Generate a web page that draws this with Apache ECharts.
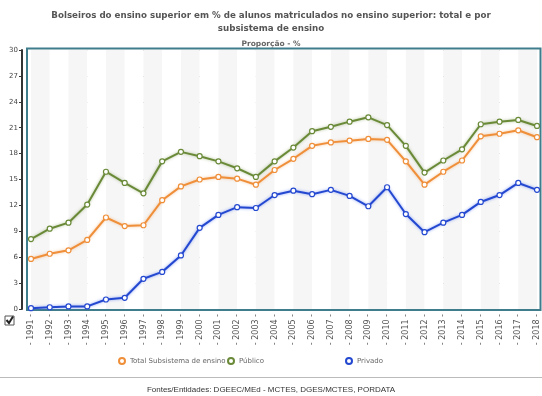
<!DOCTYPE html>
<html><head><meta charset="utf-8">
<script src="https://cdn.jsdelivr.net/npm/echarts@6/dist/echarts.min.js"></script>
<style>html,body{margin:0;padding:0;background:#fff}#c{width:542px;height:396px}</style>
</head><body><div id="c"></div>
<script>
var years = ['1991','1992','1993','1994','1995','1996','1997','1998','1999','2000','2001','2002','2003','2004','2005','2006','2007','2008','2009','2010','2011','2012','2013','2014','2015','2016','2017','2018'];
var total = [5.8,6.4,6.8,8.0,10.6,9.6,9.7,12.6,14.2,15.0,15.3,15.1,14.4,16.1,17.4,18.9,19.3,19.5,19.7,19.6,17.1,14.4,15.9,17.2,20.0,20.3,20.7,19.9];
var publico = [8.1,9.3,10.0,12.1,15.9,14.6,13.4,17.1,18.2,17.7,17.1,16.3,15.3,17.1,18.7,20.6,21.1,21.7,22.2,21.3,18.9,15.8,17.2,18.5,21.4,21.7,21.9,21.2];
var privado = [0.1,0.2,0.3,0.3,1.1,1.3,3.5,4.3,6.2,9.4,10.9,11.8,11.7,13.2,13.7,13.3,13.8,13.1,11.9,14.1,11.0,8.9,10.0,10.9,12.4,13.2,14.6,13.8];
var seriesNames = ['Total Subsistema de ensino','Público','Privado'];
var colors = ['#ef8f3a','#6a8a38','#2448d0'];
var shadows = ['rgba(239,143,58,0.5)','rgba(106,138,56,0.5)','rgba(60,100,240,0.6)'];

var chart = echarts.init(document.getElementById('c'));
function mk(i, data){
  return {name: seriesNames[i], type:'line', data:data, symbol:'circle', symbolSize:5,
    itemStyle:{color:'#fff', borderColor:colors[i], borderWidth:1.2},
    lineStyle:{color:colors[i], width:2, shadowColor:shadows[i], shadowBlur:3},
    z: 3, emphasis:{disabled:true}};
}
function lg(i, left){
  return {data:[{name:seriesNames[i], icon:'circle'}], top:357, left:left, itemWidth:6, itemHeight:6, padding:0,
    textStyle:{fontSize:7, color:'#666', fontFamily:'DejaVu Sans'}, selectedMode:false};
}
chart.setOption({
  animation:false,
  title:[{text:'Bolseiros do ensino superior em % de alunos matriculados no ensino superior: total e por\nsubsistema de ensino',
    left:'center', top:4, textStyle:{fontSize:8.7, fontWeight:'bold', color:'#555', fontFamily:'DejaVu Sans', lineHeight:13}},
    {text:'Proporção - %', left:'center', top:35, textStyle:{fontSize:7.5, fontWeight:'bold', color:'#666', fontFamily:'DejaVu Sans'}},
    {text:'Fontes/Entidades: DGEEC/MEd - MCTES, DGES/MCTES, PORDATA', left:'center', top:381, textStyle:{fontSize:8, fontWeight:'normal', color:'#333', fontFamily:'Liberation Sans'}}],
  grid:{left:31, right:5, top:50, bottom:87},
  legend:[lg(0,118), lg(1,227), lg(2,345)],
  xAxis:{type:'category', data:years, boundaryGap:false,
    axisLine:{show:false}, axisTick:{show:false},
    axisLabel:{rotate:90, fontSize:8, color:'#555', margin:5, formatter:'- {value} -', fontFamily:'DejaVu Sans'},
    splitLine:{show:false},
    splitArea:{show:true, areaStyle:{color:['#f6f6f6','#ffffff']}}},
  yAxis:{type:'value', min:0, max:30, interval:3, offset:9,
    axisLine:{show:true, lineStyle:{color:'#333', width:2}},
    axisTick:{show:true, length:3, lineStyle:{color:'#333'}},
    axisLabel:{fontSize:7, color:'#444', margin:4, fontFamily:'DejaVu Sans'},
    splitLine:{show:true, lineStyle:{color:'#aaa', type:[1,3], width:1}}},
  series:[mk(0,total), mk(1,publico), mk(2,privado)],
  graphic:[
    {type:'rect', shape:{x:27, y:48.5, width:513.5, height:261.5}, style:{fill:'none', stroke:'#3f7d8c', lineWidth:2}, z:1, silent:true},
    {type:'rect', shape:{x:5, y:316, width:9, height:9}, style:{fill:'#fff', stroke:'#555', lineWidth:1}},
    {type:'polyline', shape:{points:[[6.5,320],[9,323],[13,316.5]]}, style:{stroke:'#222', lineWidth:2, fill:'none'}},
    {type:'line', shape:{x1:0, y1:377.5, x2:542, y2:377.5}, style:{stroke:'#bbb', lineWidth:1}}
  ]
});
</script></body></html>
